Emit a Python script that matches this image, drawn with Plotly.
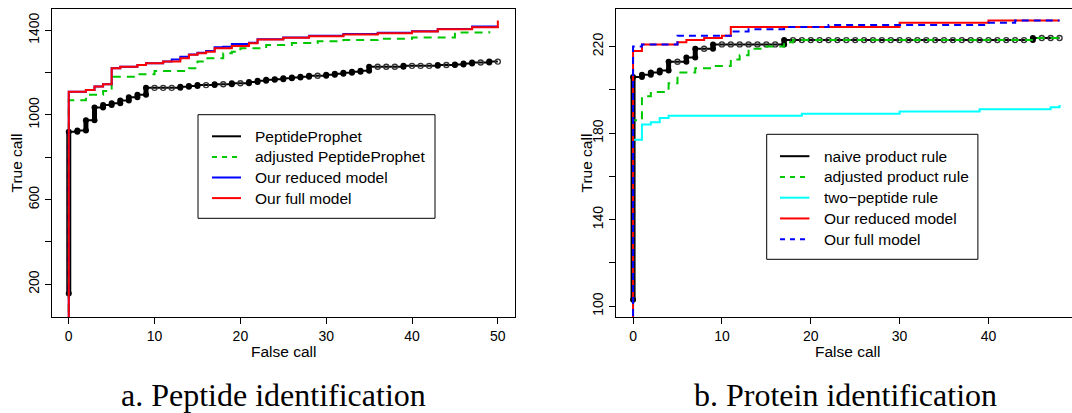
import plotly.graph_objects as go

# ---------------- Panel a: peptide identification ----------------
# PeptideProphet: number of true calls reached at each false-call count
pp_false = [0, 1, 2, 3, 4, 5, 6, 7, 8, 9, 10, 11, 12, 13, 14, 15, 16, 17, 18, 19, 20,
            21, 22, 23, 24, 25, 26, 27, 28, 29, 30, 31, 32, 33, 34, 35, 36, 37, 38, 39,
            40, 41, 42, 43, 44, 45, 46, 47, 48, 49, 50]
pp_true = [921, 927, 975, 1035, 1047, 1055, 1068, 1084, 1095, 1128, 1128, 1128, 1128,
           1133, 1137, 1141, 1141, 1145, 1145, 1150, 1150, 1156, 1162, 1166, 1169, 1173,
           1177, 1181, 1185, 1185, 1190, 1195, 1200, 1204, 1209, 1228, 1228, 1228, 1228,
           1232, 1232, 1232, 1232, 1236, 1236, 1239, 1243, 1248, 1248, 1252, 1252]
pp_start = 157

adjpp_false = [0, 0, 2, 4, 5, 8, 10, 14, 15, 16, 18, 19, 20, 23, 26, 29, 32, 36, 40, 45, 49]
adjpp_true = [0, 1070, 1095, 1113, 1181, 1192, 1208, 1221, 1252, 1268, 1292, 1299, 1315,
              1331, 1340, 1348, 1354, 1360, 1366, 1390, 1395]

reduced_a_false = [0, 0, 2, 3, 4, 5, 6, 8, 9, 11, 12, 13, 14, 15, 16, 17, 18, 19, 21, 22,
                   25, 28, 32, 36, 40, 43, 47, 50]
reduced_a_true = [0, 1110, 1118, 1134, 1145, 1221, 1228, 1236, 1244, 1252, 1262, 1275,
                  1286, 1294, 1302, 1320, 1322, 1335, 1341, 1358, 1366, 1374, 1382, 1388,
                  1396, 1406, 1418, 1420]

full_a_false = [0, 0, 2, 3, 4, 5, 6, 8, 9, 11, 13, 14, 15, 16, 17, 19, 21, 22, 25, 28,
                32, 36, 40, 43, 47, 50]
full_a_true = [0, 1110, 1118, 1134, 1145, 1221, 1228, 1236, 1244, 1252, 1268, 1284, 1292,
               1299, 1315, 1326, 1339, 1357, 1365, 1372, 1380, 1386, 1394, 1405, 1415, 1446]

# ---------------- Panel b: protein identification ----------------
naive_false = [0, 1, 2, 3, 4, 5, 6, 7, 8, 9, 10, 11, 12, 13, 14, 15, 16, 17, 18, 19, 20,
               21, 22, 23, 24, 25, 26, 27, 28, 29, 30, 31, 32, 33, 34, 35, 36, 37, 38, 39,
               40, 41, 42, 43, 44, 45, 46, 47, 48]
naive_true = [206, 207, 208, 209, 213, 213, 215, 219, 219, 221, 221, 221, 221, 221, 221,
              221, 221, 223, 223, 223, 223, 223, 223, 223, 223, 223, 223, 223, 223, 223,
              223, 223, 223, 223, 223, 223, 223, 223, 223, 223, 223, 223, 223, 223, 223,
              224, 224, 224, 224]
naive_start = 103

adjprod_false = [0, 0, 1, 2, 4, 5, 7, 9, 11, 12, 13, 15, 17, 18, 45, 48]
adjprod_true = [100, 186, 197, 199, 203, 208, 210, 211, 214, 216, 219, 220, 222, 223, 224, 224]

twopep_false = [0, 0, 1, 2, 3, 4, 19, 30, 39, 47, 48]
twopep_true = [100, 177, 184, 185, 187, 188, 189, 190, 191, 192, 193]

reduced_b_false = [0, 0, 1, 5, 6, 8, 10, 11, 30, 40, 48]
reduced_b_true = [90, 218, 221, 222, 223, 224, 225, 229, 231, 232, 232]

full_b_false = [0, 0, 1, 5, 11, 13, 17, 22, 40, 43, 48]
full_b_true = [90, 220, 221, 225, 227, 228, 229, 230, 231, 232, 232]

# ---------------- styling ----------------
W, H = 1072, 413
SANS = "Liberation Sans"
SERIF = "Liberation Serif"
BLACK, GREEN, BLUE, RED, CYAN = "#000000", "#00C800", "#0000FF", "#FF0000", "#00FFFF"
LW = 2


def px_x(p):
    return p / W


def px_y(p):
    return 1 - p / H


fig = go.Figure()


def add_step(xs, ys, color, dash, xa, ya):
    fig.add_trace(go.Scatter(x=xs, y=ys, mode="lines", line_shape="hv",
                             line=dict(color=color, width=LW, dash=dash),
                             xaxis=xa, yaxis=ya, showlegend=False, hoverinfo="skip"))


def add_points_curve(xs, ys, start, xa, ya):
    """Step curve with a point at every threshold; stacked points read as thick risers."""
    lx = [xs[0]] + list(xs)
    ly = [start] + list(ys)
    fig.add_trace(go.Scatter(x=lx, y=ly, mode="lines", line_shape="hv",
                             line=dict(color=BLACK, width=LW),
                             xaxis=xa, yaxis=ya, showlegend=False, hoverinfo="skip"))
    rx, ry, fx, fy, ox, oy = [], [], [], [], [], []
    prev = start
    for x, y in zip(xs, ys):
        if y > prev:
            rx += [x, x, None]
            ry += [prev, y, None]
            fx += [x, x]
            fy += [prev, y]
        else:
            ox.append(x)
            oy.append(y)
        prev = y
    fig.add_trace(go.Scatter(x=rx, y=ry, mode="lines", line=dict(color=BLACK, width=5),
                             xaxis=xa, yaxis=ya, showlegend=False, hoverinfo="skip"))
    fig.add_trace(go.Scatter(x=fx, y=fy, mode="markers",
                             marker=dict(symbol="circle", size=6, color=BLACK),
                             xaxis=xa, yaxis=ya, showlegend=False, hoverinfo="skip"))
    fig.add_trace(go.Scatter(x=ox, y=oy, mode="markers",
                             marker=dict(symbol="circle-open", size=5, color="#333333",
                                         line=dict(width=1.4)),
                             xaxis=xa, yaxis=ya, showlegend=False, hoverinfo="skip"))


# panel a curves
add_points_curve(pp_false, pp_true, pp_start, "x", "y")
add_step(adjpp_false, adjpp_true, GREEN, "8px,6px", "x", "y")
add_step(reduced_a_false, reduced_a_true, BLUE, "solid", "x", "y")
add_step(full_a_false, full_a_true, RED, "solid", "x", "y")

# panel b curves
add_points_curve(naive_false, naive_true, naive_start, "x2", "y2")
add_step(adjprod_false, adjprod_true, GREEN, "8px,6px", "x2", "y2")
add_step(twopep_false, twopep_true, CYAN, "solid", "x2", "y2")
add_step(reduced_b_false, reduced_b_true, RED, "solid", "x2", "y2")
add_step(full_b_false, full_b_true, BLUE, "7px,5px", "x2", "y2")

# ---------------- axes ----------------
plot_top, plot_bottom = 8.5, 317.3
ydom = [px_y(plot_bottom), px_y(plot_top)]
tickfont = dict(family=SANS, size=14, color="black")
common = dict(showgrid=False, zeroline=False, showline=True, linecolor="black", linewidth=1,
              ticks="outside", ticklen=6, tickwidth=1, tickcolor="black", tickfont=tickfont)

fig.update_layout(
    width=W, height=H, margin=dict(l=0, r=0, t=0, b=0),
    paper_bgcolor="white", plot_bgcolor="white", showlegend=False,
    xaxis=dict(domain=[px_x(51.6), px_x(515)], range=[-2, 52], anchor="y", mirror=True,
               tickvals=[0, 10, 20, 30, 40, 50], **common),
    yaxis=dict(domain=ydom, range=[44, 1503], anchor="x", mirror=True, tickangle=-90,
               tickvals=[200, 400, 600, 800, 1000, 1200, 1400],
               ticktext=["200", "", "600", "", "1000", "", "1400"], **common),
    xaxis2=dict(domain=[px_x(616), 1.0], range=[-1.92, 49.4], anchor="y2", mirror=True,
                tickvals=[0, 10, 20, 30, 40], **common),
    yaxis2=dict(domain=ydom, range=[94.9, 237.6], anchor="x2", mirror=False, tickangle=-90,
                tickvals=[100, 120, 140, 160, 180, 200, 220],
                ticktext=["100", "", "140", "", "180", "", "220"], **common),
)

annotations = []
shapes = []
labfont = dict(family=SANS, size=15.5, color="black")


def text(x, y, s, font, xanchor="center", angle=0):
    annotations.append(dict(x=px_x(x), y=px_y(y), xref="paper", yref="paper", text=s,
                            showarrow=False, font=font, xanchor=xanchor, yanchor="middle",
                            textangle=angle))


# axis titles
text(283.3, 351.5, "False call", labfont)
text(15.5, 163, "True call", labfont, angle=-90)
text(847, 351.5, "False call", labfont)
text(585.5, 163, "True call", labfont, angle=-90)

# panel captions
capfont = dict(family=SERIF, size=32, color="black")
text(273.5, 395, "a. Peptide identification", capfont)
text(845, 395, "b. Protein identification", capfont)


def legend(box, line_x, text_x, y0, dy, entries):
    shapes.append(dict(type="rect", xref="paper", yref="paper",
                       x0=px_x(box[0]), x1=px_x(box[1]), y0=px_y(box[3]), y1=px_y(box[2]),
                       line=dict(color="black", width=1), fillcolor="white", layer="above"))
    for i, (label, color, dash) in enumerate(entries):
        y = y0 + i * dy
        shapes.append(dict(type="line", xref="paper", yref="paper",
                           x0=px_x(line_x[0]), x1=px_x(line_x[1]), y0=px_y(y), y1=px_y(y),
                           line=dict(color=color, width=LW, dash=dash), layer="above"))
        text(text_x, y, label, labfont, xanchor="left")


legend((198, 435, 114.7, 218.3), (212, 241), 253, 136.3, 20.6, [
    ("PeptideProphet", BLACK, "solid"),
    ("adjusted PeptideProphet", GREEN, "5px,5px"),
    ("Our reduced model", BLUE, "solid"),
    ("Our full model", RED, "solid"),
])
legend((766.7, 977.9, 134.3, 259.3), (780, 809.4), 822, 156.2, 20.75, [
    ("naive product rule", BLACK, "solid"),
    ("adjusted product rule", GREEN, "5px,5px"),
    ("two\u2212peptide rule", CYAN, "solid"),
    ("Our reduced model", RED, "solid"),
    ("Our full model", BLUE, "5px,5px"),
])

fig.update_layout(annotations=annotations, shapes=shapes)
fig.write_html("out.html")
